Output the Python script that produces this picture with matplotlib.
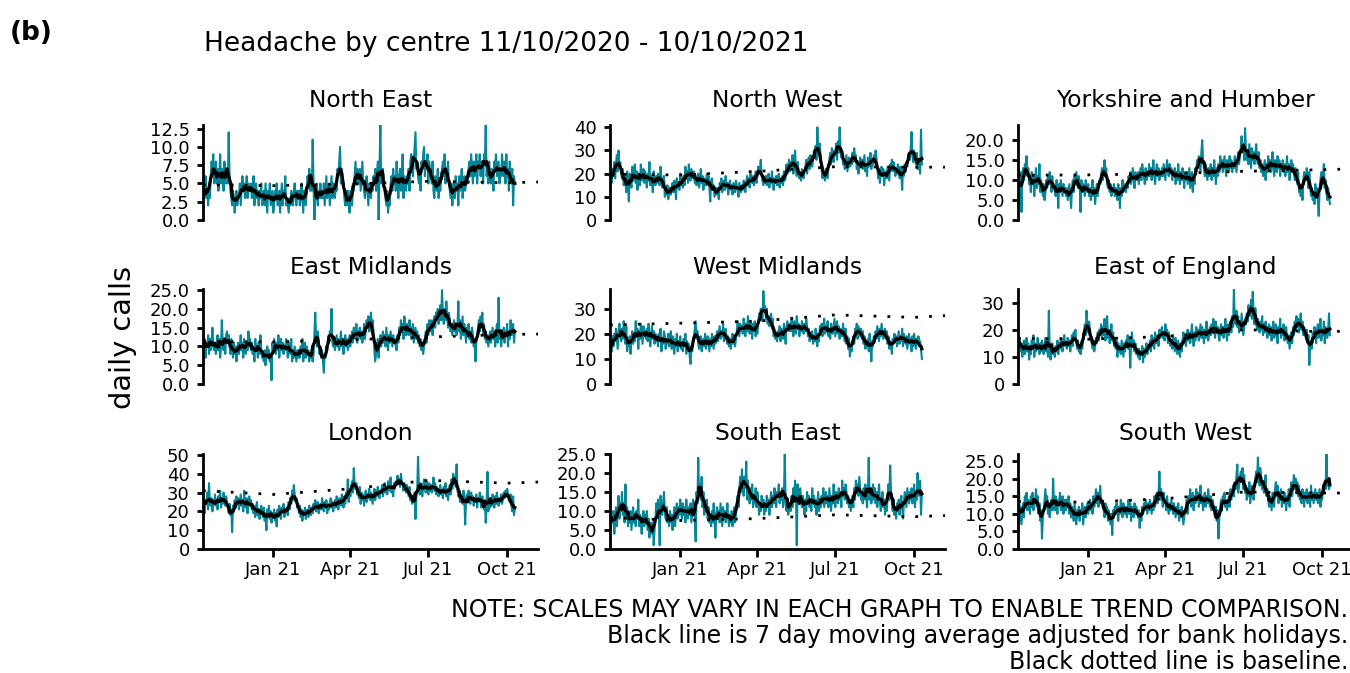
import matplotlib
matplotlib.use("Agg")
import matplotlib.pyplot as plt
import matplotlib.dates as mdates
import pandas as pd
from matplotlib import font_manager
from matplotlib.ticker import MultipleLocator, StrMethodFormatter

start_day = "2020-10-11"
x_end = "2021-11-06"

regions = ["North East", "North West", "Yorkshire and Humber",
           "East Midlands", "West Midlands", "East of England",
           "London", "South East", "South West"]

# daily calls, 11/10/2020 - 10/10/2021
ne_calls = [
    1, 5, 4, 6, 3, 4, 2, 5, 3, 6, 8, 7, 9, 5,
    6, 8, 5, 7, 4, 6, 9, 5, 7, 6, 4, 8, 6, 5,
    7, 5, 12, 6, 4, 3, 2, 4, 3, 1, 3, 4, 2, 3,
    3, 5, 2, 4, 6, 4, 5, 3, 4, 6, 3, 5, 4, 4,
    5, 3, 4, 6, 2, 4, 5, 3, 4, 2, 4, 3, 5, 2,
    3, 4, 2, 5, 3, 1, 4, 3, 5, 2, 3, 4, 1, 2,
    4, 3, 5, 2, 3, 4, 1, 3, 5, 2, 4, 3, 6, 2,
    3, 2, 1, 3, 2, 4, 3, 2, 4, 5, 3, 2, 4, 3,
    4, 2, 3, 5, 3, 1, 4, 3, 2, 4, 6, 5, 7, 4,
    6, 4, 11, 5, 0, 3, 4, 5, 2, 4, 3, 5, 3, 4,
    3, 5, 2, 4, 6, 3, 4, 5, 2, 4, 6, 3, 5, 4,
    3, 5, 4, 7, 6, 8, 10, 5, 7, 6, 5, 3, 2, 4,
    2, 4, 3, 1, 4, 3, 2, 5, 4, 6, 8, 5, 7, 6,
    5, 7, 4, 6, 8, 5, 4, 3, 5, 6, 4, 2, 5, 4,
    3, 5, 4, 6, 5, 7, 4, 6, 8, 0, 7, 13, 5, 6,
    7, 5, 4, 3, 2, 4, 1, 3, 2, 5, 6, 4, 7, 5,
    6, 4, 8, 5, 3, 6, 7, 4, 5, 9, 3, 6, 5, 4,
    6, 5, 7, 4, 8, 9, 7, 6, 8, 10, 12, 7, 8, 6,
    5, 6, 4, 8, 7, 9, 10, 6, 8, 7, 9, 5, 8, 7,
    6, 5, 8, 4, 3, 6, 5, 4, 7, 3, 5, 4, 6, 7,
    8, 6, 9, 5, 7, 6, 8, 5, 4, 3, 5, 2, 4, 5,
    3, 6, 4, 5, 2, 6, 4, 5, 7, 3, 5, 6, 4, 5,
    6, 5, 7, 8, 6, 9, 7, 5, 8, 6, 7, 9, 5, 8,
    7, 9, 6, 8, 7, 5, 9, 8, 13, 6, 7, 5, 8, 6,
    5, 7, 6, 4, 8, 7, 9, 6, 7, 8, 5, 7, 6, 9,
    7, 6, 8, 5, 9, 6, 7, 4, 8, 6, 5, 7, 2, 6,
    5]
nw_calls = [
    14, 19, 16, 22, 20, 25, 18, 24, 28, 21, 30, 23, 25, 20,
    18, 22, 15, 19, 17, 12, 21, 16, 8, 20, 18, 14, 23, 17,
    19, 24, 16, 21, 13, 18, 20, 15, 24, 17, 19, 22, 16, 21,
    18, 14, 20, 17, 25, 15, 19, 16, 12, 21, 17, 15, 19, 16,
    20, 17, 15, 23, 18, 14, 16, 19, 10, 13, 11, 15, 9, 12,
    14, 11, 13, 16, 12, 17, 15, 9, 18, 14, 16, 13, 20, 15,
    17, 14, 19, 15, 23, 18, 21, 16, 24, 19, 17, 22, 20, 18,
    21, 16, 19, 15, 18, 20, 14, 17, 22, 16, 19, 13, 18, 17,
    15, 20, 16, 19, 14, 8, 17, 18, 13, 15, 10, 12, 14, 11,
    13, 9, 16, 14, 18, 12, 15, 17, 13, 19, 14, 16, 11, 15,
    17, 13, 15, 11, 16, 14, 12, 17, 15, 13, 10, 16, 14, 12,
    15, 13, 17, 14, 12, 16, 19, 15, 18, 14, 20, 17, 16, 19,
    15, 18, 21, 16, 19, 23, 20, 22, 26, 19, 17, 15, 18, 16,
    19, 15, 17, 20, 14, 18, 16, 21, 17, 13, 18, 16, 19, 15,
    17, 20, 14, 18, 16, 19, 15, 21, 17, 18, 24, 20, 22, 26,
    21, 25, 23, 28, 20, 24, 30, 22, 19, 25, 21, 18, 20, 17,
    22, 19, 18, 21, 23, 26, 20, 24, 27, 22, 28, 25, 23, 26,
    30, 27, 32, 26, 40, 31, 28, 33, 25, 22, 18, 21, 19, 17,
    22, 20, 18, 23, 26, 29, 24, 31, 27, 25, 30, 28, 33, 26,
    34, 29, 40, 32, 27, 30, 24, 26, 22, 25, 28, 21, 24, 27,
    23, 26, 24, 29, 25, 31, 27, 28, 22, 25, 20, 24, 27, 23,
    26, 22, 25, 28, 21, 24, 19, 27, 23, 25, 29, 22, 26, 24,
    28, 25, 30, 27, 22, 18, 21, 16, 20, 23, 19, 22, 15, 20,
    21, 18, 23, 20, 17, 24, 22, 26, 21, 25, 23, 19, 22, 20,
    24, 21, 18, 23, 20, 13, 22, 19, 24, 21, 25, 23, 27, 29,
    26, 31, 38, 28, 25, 30, 27, 24, 29, 22, 26, 23, 20, 39,
    24]
yh_calls = [
    15, 9, 4, 12, 2, 11, 13, 10, 14, 12, 16, 11, 13, 9,
    10, 7, 12, 9, 11, 6, 10, 13, 8, 11, 9, 14, 7, 10,
    8, 6, 9, 5, 7, 10, 8, 11, 9, 12, 10, 7, 11, 8,
    9, 7, 6, 10, 8, 3, 9, 7, 10, 8, 6, 9, 7, 8,
    6, 8, 5, 7, 9, 6, 3, 8, 10, 7, 11, 9, 12, 10,
    8, 11, 9, 2, 10, 7, 9, 8, 6, 10, 8, 7, 9, 6,
    8, 5, 7, 10, 6, 8, 4, 7, 9, 6, 8, 10, 9, 11,
    13, 10, 12, 15, 11, 13, 9, 8, 10, 7, 9, 6, 8, 7,
    9, 6, 8, 7, 5, 9, 7, 3, 8, 6, 10, 7, 8, 9,
    7, 9, 8, 11, 10, 12, 9, 11, 13, 10, 8, 12, 11, 10,
    12, 9, 11, 13, 10, 14, 12, 11, 9, 13, 10, 12, 11, 14,
    11, 13, 10, 12, 15, 11, 9, 12, 14, 11, 13, 10, 12, 11,
    13, 11, 14, 12, 10, 13, 15, 12, 11, 14, 12, 13, 10, 12,
    11, 13, 9, 12, 10, 14, 11, 9, 12, 10, 13, 11, 8, 12,
    10, 12, 9, 11, 13, 8, 10, 12, 7, 11, 9, 13, 12, 15,
    13, 16, 14, 12, 17, 20, 15, 13, 11, 14, 12, 10, 13, 11,
    12, 14, 10, 13, 11, 15, 12, 9, 13, 11, 14, 12, 16, 13,
    15, 12, 14, 16, 13, 11, 15, 14, 12, 16, 13, 15, 12, 14,
    13, 16, 14, 12, 15, 17, 14, 16, 18, 21, 17, 19, 15, 23,
    18, 15, 17, 14, 19, 16, 13, 18, 15, 17, 14, 16, 19, 15,
    14, 17, 13, 15, 12, 14, 11, 13, 15, 10, 14, 12, 16, 13,
    15, 12, 14, 17, 13, 11, 15, 14, 12, 16, 13, 15, 11, 14,
    13, 15, 12, 14, 11, 13, 16, 12, 14, 10, 13, 15, 12, 14,
    12, 10, 13, 11, 9, 12, 7, 8, 6, 9, 5, 10, 12, 11,
    10, 13, 11, 8, 12, 9, 6, 8, 5, 7, 4, 9, 6, 8,
    5, 1, 8, 10, 12, 9, 11, 14, 8, 10, 7, 5, 8, 6,
    4]
em_calls = [
    14, 9, 12, 7, 11, 10, 13, 8, 12, 9, 11, 15, 10, 9,
    11, 8, 10, 13, 9, 12, 7, 10, 17, 11, 9, 12, 8, 13,
    14, 11, 13, 10, 8, 12, 9, 7, 11, 8, 10, 6, 9, 11,
    8, 10, 13, 9, 11, 7, 12, 10, 8, 11, 9, 14, 10, 12,
    9, 11, 8, 10, 6, 12, 9, 10, 7, 11, 8, 13, 9, 7,
    8, 6, 9, 5, 8, 10, 7, 9, 6, 8, 1, 11, 9, 12,
    10, 8, 11, 9, 13, 7, 10, 12, 9, 11, 8, 10, 9, 12,
    10, 7, 11, 9, 8, 12, 6, 9, 7, 10, 8, 6, 9, 7,
    9, 7, 10, 8, 12, 6, 9, 11, 7, 10, 8, 9, 6, 8,
    7, 9, 6, 8, 13, 19, 12, 10, 14, 11, 8, 10, 7, 9,
    6, 3, 8, 7, 10, 9, 12, 11, 14, 13, 20, 11, 10, 12,
    9, 11, 13, 10, 12, 9, 11, 14, 10, 12, 8, 11, 13, 10,
    12, 9, 11, 13, 10, 12, 14, 11, 15, 13, 12, 16, 11, 14,
    13, 15, 12, 14, 11, 13, 16, 12, 14, 17, 15, 18, 14, 16,
    19, 15, 17, 14, 9, 6, 8, 10, 12, 7, 11, 13, 10, 12,
    14, 11, 13, 10, 15, 12, 9, 13, 11, 14, 12, 10, 13, 11,
    12, 10, 9, 13, 11, 15, 13, 17, 14, 16, 12, 18, 15, 13,
    16, 14, 13, 17, 15, 12, 14, 16, 11, 13, 15, 12, 14, 11,
    13, 10, 12, 9, 11, 8, 10, 12, 14, 11, 16, 13, 17, 15,
    14, 17, 13, 16, 18, 15, 19, 17, 20, 16, 18, 21, 17, 25,
    19, 16, 20, 17, 22, 18, 15, 19, 17, 14, 16, 13, 15, 17,
    14, 16, 13, 15, 22, 14, 17, 12, 15, 18, 13, 16, 14, 11,
    15, 13, 16, 12, 14, 11, 15, 13, 10, 12, 6, 11, 13, 15,
    17, 14, 18, 15, 19, 13, 16, 12, 14, 11, 13, 10, 12, 14,
    11, 13, 15, 12, 14, 10, 13, 16, 11, 23, 12, 14, 10, 13,
    12, 15, 11, 14, 13, 16, 10, 14, 12, 17, 13, 15, 16, 11,
    14]
wm_calls = [
    11, 16, 13, 19, 15, 20, 17, 22, 18, 14, 21, 24, 19, 17,
    22, 18, 25, 20, 16, 23, 13, 17, 15, 19, 12, 18, 21, 16,
    20, 17, 25, 19, 22, 14, 21, 18, 24, 20, 16, 23, 19, 21,
    18, 22, 17, 24, 20, 15, 19, 23, 18, 21, 16, 20, 17, 19,
    15, 20, 17, 22, 13, 18, 16, 21, 19, 14, 18, 16, 20, 15,
    17, 21, 14, 19, 16, 12, 18, 15, 20, 13, 17, 15, 19, 14,
    16, 13, 18, 15, 20, 12, 17, 14, 16, 11, 8, 15, 13, 17,
    19, 22, 25, 18, 21, 16, 14, 17, 19, 13, 16, 18, 15, 20,
    14, 17, 19, 16, 13, 18, 15, 20, 17, 14, 19, 16, 18, 21,
    17, 20, 23, 18, 21, 19, 24, 17, 20, 22, 18, 16, 19, 15,
    18, 14, 17, 20, 16, 19, 15, 18, 21, 25, 22, 19, 24, 21,
    23, 20, 26, 22, 19, 24, 21, 27, 23, 20, 25, 22, 18, 24,
    21, 25, 19, 23, 20, 24, 28, 26, 30, 27, 25, 37, 29, 31,
    26, 30, 24, 27, 23, 25, 28, 22, 26, 19, 21, 18, 20, 17,
    21, 19, 23, 17, 22, 20, 18, 24, 21, 16, 22, 25, 23, 21,
    24, 21, 26, 22, 19, 25, 23, 20, 27, 22, 24, 19, 23, 21,
    25, 22, 20, 24, 21, 26, 23, 19, 22, 17, 20, 18, 21, 16,
    19, 17, 22, 18, 15, 20, 17, 23, 21, 24, 19, 22, 26, 20,
    23, 21, 25, 19, 22, 18, 24, 21, 20, 23, 26, 19, 22, 25,
    20, 23, 18, 22, 21, 19, 24, 20, 17, 22, 16, 19, 14, 18,
    11, 15, 13, 17, 19, 16, 22, 20, 24, 18, 23, 21, 19, 22,
    18, 21, 16, 19, 14, 17, 15, 18, 13, 20, 16, 9, 17, 15,
    19, 17, 21, 18, 23, 20, 17, 22, 19, 24, 21, 18, 20, 22,
    18, 21, 16, 19, 14, 17, 15, 12, 18, 16, 20, 17, 19, 15,
    18, 21, 16, 19, 17, 22, 15, 20, 18, 16, 19, 14, 17, 20,
    16, 18, 13, 19, 15, 20, 17, 14, 18, 16, 19, 15, 17, 14,
    10]
ee_calls = [
    20, 14, 17, 12, 15, 10, 14, 16, 11, 13, 17, 12, 15, 9,
    14, 11, 16, 13, 18, 10, 15, 12, 14, 17, 13, 11, 15, 12,
    16, 13, 11, 14, 17, 12, 15, 10, 27, 13, 9, 12, 15, 11,
    13, 10, 14, 12, 16, 11, 15, 13, 17, 14, 12, 16, 18, 14,
    15, 13, 17, 14, 16, 12, 15, 18, 14, 19, 17, 20, 15, 13,
    16, 12, 14, 11, 15, 13, 17, 19, 22, 18, 27, 21, 19, 23,
    20, 17, 15, 13, 16, 12, 14, 17, 15, 19, 16, 20, 18, 22,
    17, 21, 18, 24, 16, 19, 25, 17, 20, 15, 18, 22, 16, 19,
    14, 17, 13, 16, 10, 15, 12, 14, 11, 16, 13, 10, 15, 12,
    16, 14, 18, 13, 17, 6, 15, 19, 14, 16, 12, 15, 11, 13,
    10, 13, 9, 12, 11, 14, 8, 13, 10, 12, 15, 11, 14, 13,
    16, 12, 18, 14, 17, 13, 19, 15, 16, 18, 14, 20, 17, 19,
    21, 17, 19, 16, 22, 18, 20, 15, 19, 17, 14, 16, 13, 18,
    15, 12, 17, 14, 11, 16, 13, 10, 15, 12, 16, 19, 15, 18,
    14, 17, 20, 16, 19, 15, 18, 22, 17, 14, 19, 16, 21, 18,
    20, 16, 19, 22, 17, 21, 18, 15, 20, 17, 23, 19, 16, 18,
    21, 18, 22, 19, 24, 20, 17, 23, 19, 21, 18, 16, 20, 22,
    18, 21, 17, 20, 24, 19, 16, 22, 18, 20, 23, 19, 25, 21,
    35, 24, 22, 27, 21, 25, 19, 23, 20, 26, 22, 18, 21, 24,
    22, 26, 23, 29, 25, 27, 31, 24, 34, 26, 22, 28, 23, 20,
    24, 21, 19, 23, 20, 25, 18, 22, 19, 23, 21, 17, 20, 22,
    18, 21, 16, 20, 23, 17, 19, 22, 18, 15, 21, 19, 24, 17,
    20, 18, 22, 16, 19, 21, 17, 15, 18, 13, 16, 19, 15, 21,
    18, 23, 20, 25, 21, 24, 19, 22, 26, 20, 23, 18, 21, 19,
    17, 20, 15, 18, 7, 14, 16, 13, 19, 17, 21, 18, 15, 20,
    22, 17, 19, 24, 16, 20, 18, 23, 15, 21, 19, 17, 20, 26,
    18]
ld_calls = [
    28, 22, 19, 26, 24, 30, 21, 35, 25, 23, 27, 20, 26, 24,
    29, 23, 26, 21, 28, 25, 31, 22, 27, 24, 30, 26, 23, 28,
    25, 22, 19, 24, 18, 21, 9, 23, 20, 26, 22, 28, 24, 27,
    21, 25, 29, 23, 26, 20, 31, 24, 22, 27, 19, 25, 28, 23,
    26, 21, 24, 19, 23, 17, 22, 25, 18, 21, 16, 20, 23, 19,
    17, 22, 15, 19, 10, 21, 18, 23, 16, 20, 14, 19, 17, 21,
    15, 19, 12, 21, 17, 23, 18, 16, 22, 20, 24, 17, 21, 19,
    22, 18, 25, 21, 27, 24, 31, 26, 34, 29, 25, 27, 22, 24,
    19, 23, 17, 21, 15, 20, 18, 22, 16, 19, 21, 17, 23, 20,
    18, 22, 19, 24, 21, 26, 20, 23, 25, 19, 22, 24, 21, 27,
    23, 20, 25, 22, 26, 19, 24, 21, 23, 27, 22, 25, 20, 24,
    26, 22, 28, 24, 21, 27, 25, 23, 29, 26, 22, 28, 24, 30,
    27, 37, 25, 31, 28, 33, 36, 30, 43, 34, 32, 35, 29, 31,
    27, 33, 24, 30, 26, 29, 23, 28, 31, 25, 29, 27, 32, 26,
    30, 27, 24, 29, 32, 26, 31, 28, 33, 29, 27, 31, 30, 34,
    28, 32, 35, 30, 33, 29, 36, 31, 34, 38, 30, 33, 28, 35,
    32, 36, 34, 39, 35, 37, 33, 40, 36, 34, 31, 35, 33, 30,
    34, 31, 28, 33, 26, 29, 24, 28, 25, 30, 16, 27, 31, 49,
    33, 29, 35, 31, 28, 34, 37, 32, 30, 36, 33, 29, 35, 31,
    34, 30, 33, 38, 31, 35, 29, 33, 30, 28, 32, 34, 29, 31,
    27, 33, 30, 35, 28, 32, 26, 31, 34, 29, 37, 32, 40, 36,
    38, 33, 45, 31, 28, 30, 25, 29, 27, 24, 31, 28, 13, 26,
    29, 25, 31, 27, 24, 30, 26, 28, 23, 27, 25, 29, 22, 27,
    25, 30, 27, 22, 28, 24, 21, 26, 14, 23, 41, 20, 25, 22,
    27, 23, 29, 25, 22, 28, 24, 30, 26, 23, 27, 25, 29, 24,
    26, 30, 27, 31, 28, 32, 29, 26, 25, 29, 23, 20, 28, 18,
    22]
se_calls = [
    10, 5, 9, 7, 10, 4, 8, 11, 6, 9, 14, 8, 12, 10,
    15, 9, 12, 7, 17, 8, 11, 6, 9, 7, 10, 5, 8, 11,
    7, 9, 6, 10, 8, 13, 6, 9, 7, 4, 8, 10, 6, 9,
    7, 10, 5, 8, 3, 7, 6, 4, 7, 1, 5, 8, 12, 9,
    13, 10, 1, 14, 11, 9, 12, 15, 10, 8, 11, 7, 9, 6,
    10, 7, 9, 5, 8, 11, 6, 9, 12, 8, 11, 9, 13, 10,
    8, 12, 9, 11, 7, 13, 10, 8, 11, 9, 12, 7, 10, 13,
    11, 8, 2, 15, 12, 24, 14, 17, 13, 19, 11, 15, 9, 12,
    10, 13, 8, 11, 7, 9, 6, 10, 7, 12, 8, 3, 9, 11,
    8, 10, 7, 12, 9, 6, 11, 8, 10, 7, 9, 12, 8, 6,
    9, 7, 10, 6, 8, 11, 7, 9, 12, 14, 11, 16, 19, 15,
    21, 17, 14, 19, 16, 23, 13, 18, 15, 12, 16, 13, 17, 11,
    14, 12, 16, 11, 15, 13, 9, 12, 10, 14, 11, 13, 9, 12,
    10, 14, 11, 13, 9, 12, 15, 11, 14, 12, 16, 13, 11, 15,
    14, 17, 12, 15, 13, 16, 11, 14, 25, 12, 10, 13, 9, 11,
    12, 10, 14, 11, 16, 13, 18, 15, 1, 17, 14, 12, 16, 13,
    11, 14, 12, 9, 13, 10, 15, 12, 14, 11, 13, 10, 16, 12,
    14, 11, 13, 9, 12, 15, 10, 13, 11, 14, 12, 16, 11, 13,
    15, 12, 14, 11, 16, 13, 10, 14, 12, 17, 13, 11, 15, 14,
    12, 16, 13, 15, 11, 18, 14, 16, 13, 17, 15, 12, 14, 11,
    13, 10, 12, 14, 11, 16, 13, 18, 15, 17, 14, 19, 16, 13,
    15, 12, 16, 13, 17, 14, 11, 15, 24, 13, 16, 12, 14, 17,
    13, 16, 12, 15, 11, 14, 17, 13, 10, 12, 15, 11, 13, 9,
    12, 10, 14, 17, 13, 22, 15, 12, 10, 13, 9, 11, 8, 12,
    10, 13, 9, 12, 14, 11, 8, 12, 15, 13, 11, 16, 14, 12,
    15, 13, 16, 12, 14, 17, 11, 15, 13, 20, 14, 16, 18, 9,
    15]
sw_calls = [
    6, 19, 8, 12, 7, 10, 13, 9, 15, 12, 16, 11, 14, 13,
    10, 15, 12, 16, 11, 14, 13, 17, 12, 15, 10, 13, 8, 11,
    3, 9, 11, 14, 17, 12, 15, 10, 13, 9, 12, 14, 11, 20,
    13, 11, 15, 12, 10, 14, 13, 16, 11, 12, 15, 10, 13, 14,
    11, 14, 12, 15, 10, 13, 9, 12, 11, 8, 13, 10, 7, 11,
    9, 12, 8, 11, 10, 13, 7, 10, 12, 9, 11, 13, 10, 12,
    14, 11, 13, 10, 15, 12, 14, 17, 13, 16, 12, 15, 18, 13,
    14, 12, 11, 9, 13, 10, 12, 8, 11, 9, 7, 10, 4, 11,
    9, 12, 10, 13, 11, 8, 12, 10, 14, 11, 9, 13, 12, 10,
    12, 9, 11, 14, 10, 13, 8, 12, 11, 9, 13, 10, 12, 11,
    9, 11, 6, 10, 8, 12, 10, 13, 11, 14, 12, 10, 13, 11,
    14, 12, 10, 13, 11, 15, 12, 14, 16, 13, 15, 22, 14, 17,
    15, 12, 16, 14, 13, 11, 15, 12, 10, 13, 11, 14, 12, 10,
    13, 11, 9, 12, 10, 13, 8, 11, 9, 12, 10, 7, 9, 11,
    12, 14, 10, 15, 13, 17, 12, 14, 16, 11, 15, 13, 17, 14,
    16, 12, 14, 18, 13, 15, 11, 14, 16, 12, 15, 13, 17, 14,
    12, 15, 11, 14, 13, 10, 9, 12, 8, 11, 3, 9, 12, 14,
    11, 15, 13, 16, 12, 14, 11, 13, 15, 12, 17, 14, 16, 18,
    15, 19, 17, 21, 24, 16, 18, 20, 22, 19, 23, 17, 21, 16,
    18, 14, 17, 15, 19, 13, 16, 18, 15, 14, 17, 20, 22, 19,
    26, 21, 18, 23, 20, 17, 19, 16, 18, 21, 15, 17, 14, 12,
    15, 13, 11, 16, 14, 12, 17, 19, 15, 18, 13, 16, 14, 17,
    12, 15, 13, 16, 14, 11, 15, 13, 17, 12, 16, 19, 15, 18,
    21, 17, 20, 16, 19, 15, 18, 14, 16, 13, 17, 15, 12, 16,
    14, 17, 13, 16, 15, 12, 18, 14, 16, 13, 15, 17, 14, 16,
    13, 15, 17, 12, 16, 14, 18, 16, 19, 17, 27, 18, 20, 17,
    18]

# baseline (dotted) at a few dates
base_dates = ["2020-10-11", "2021-01-01", "2021-04-01", "2021-07-01", "2021-10-01", "2021-11-06"]
ne_base = [4.8, 4.7, 4.9, 5.3, 5.1, 5.2]
nw_base = [19.8, 19.4, 21.0, 23.0, 22.8, 22.8]
yh_base = [11.2, 11.3, 11.6, 12.2, 12.6, 12.8]
em_base = [11.3, 11.2, 11.8, 12.5, 13.2, 13.3]
wm_base = [23.5, 24.2, 25.0, 27.5, 26.5, 27.2]
ee_base = [16.8, 16.5, 17.5, 20.0, 19.3, 19.5]
ld_base = [31.0, 29.0, 32.0, 36.5, 35.0, 35.6]
se_base = [8.3, 7.5, 8.0, 9.0, 8.5, 8.8]
sw_base = [13.5, 13.3, 14.3, 16.2, 15.9, 15.9]

calls = [ne_calls, nw_calls, yh_calls, em_calls, wm_calls, ee_calls, ld_calls, se_calls, sw_calls]
bases = [ne_base, nw_base, yh_base, em_base, wm_base, ee_base, ld_base, se_base, sw_base]
y_tops = [13, 41, 23.8, 25.3, 37.8, 35, 50.5, 25, 27]
y_steps = [2.5, 10, 5, 5, 10, 10, 10, 5, 5]
y_decimals = [1, 0, 1, 1, 0, 0, 0, 1, 1]

teal = "#058596"
W, H = 1350, 673
col_left = [203, 610, 1018]
row_zero = [220, 384, 549]
title_pad = [13, 11, 10]

fig = plt.figure(figsize=(W / 100, H / 100), dpi=100)

for i, name in enumerate(regions):
    r, c = divmod(i, 3)
    ax = fig.add_axes([col_left[c] / W, (H - row_zero[r]) / H, 335 / W, 95 / H])
    days = pd.date_range(start_day, periods=len(calls[i]), freq="D")
    s = pd.Series(calls[i], index=days, dtype=float)
    ma = s.rolling(7, center=True, min_periods=1).mean()

    ax.plot(s.index, s.values, color=teal, lw=1.5, zorder=2)
    ax.plot(pd.to_datetime(base_dates), bases[i], color="black", lw=2.0,
            linestyle=(0, (1, 4)), zorder=3)
    ax.plot(ma.index, ma.values, color="black", lw=2.3, zorder=4)

    ax.set_xlim(pd.Timestamp(start_day), pd.Timestamp(x_end))
    ax.set_ylim(0, y_tops[i])
    ax.yaxis.set_major_locator(MultipleLocator(y_steps[i]))
    ax.yaxis.set_major_formatter(StrMethodFormatter("{x:.%df}" % y_decimals[i]))
    ax.set_title(name, fontsize=16.8, pad=title_pad[r])

    for side in ["top", "right"]:
        ax.spines[side].set_visible(False)
    ax.spines["left"].set_linewidth(2.0)
    ax.tick_params(axis="y", labelsize=13, length=4.5, width=2.0, pad=5)
    if r < 2:
        ax.spines["bottom"].set_visible(False)
        ax.tick_params(axis="x", bottom=False, labelbottom=False)
    else:
        ax.spines["bottom"].set_linewidth(2.0)
        ax.xaxis.set_major_locator(mdates.MonthLocator(bymonth=[1, 4, 7, 10]))
        ax.xaxis.set_major_formatter(mdates.DateFormatter("%b %y"))
        ax.tick_params(axis="x", labelsize=13, length=5.5, width=2.0, pad=3)

fig.text(10 / W, 1 - 40 / H, "(b)", fontsize=19, fontweight="bold", va="baseline")
fig.text(204 / W, 1 - 51 / H, "Headache by centre 11/10/2020 - 10/10/2021",
         fontsize=19, va="baseline")
fig.text(123 / W, 1 - 337 / H, "daily calls", fontsize=20.7, rotation=90,
         ha="center", va="center")

installed = {f.name for f in font_manager.fontManager.ttflist}
if "Liberation Sans Narrow" in installed:
    note_font, note_size = "Liberation Sans Narrow", 20.9
else:
    note_font, note_size = "DejaVu Sans", 17
notes = ["NOTE: SCALES MAY VARY IN EACH GRAPH TO ENABLE TREND COMPARISON.",
         "Black line is 7 day moving average adjusted for bank holidays.",
         "Black dotted line is baseline."]
for k, line in enumerate(notes):
    fig.text(1348 / W, 1 - (617 + 26 * k) / H, line, family=note_font,
             fontsize=note_size, ha="right", va="baseline")

fig.savefig("out.png", dpi=100)
